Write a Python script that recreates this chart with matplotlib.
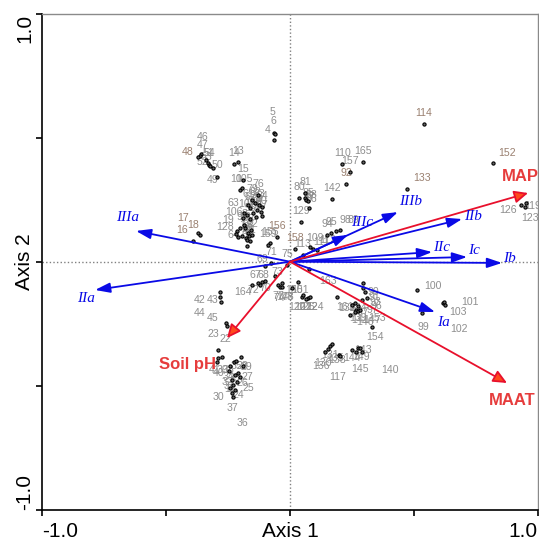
import matplotlib
matplotlib.use('Agg')
import matplotlib.pyplot as plt
from matplotlib.patches import FancyArrowPatch

# ---------------- data ----------------
site_ids = [4, 5, 6, 13, 14, 15, 10, 105, 46, 47, 48, 51, 54, 53, 52, 50, 49,
            76, 79, 82, 83, 84, 61, 62, 63, 106, 107, 108, 59, 60, 57, 56, 55,
            16, 17, 18, 19, 128, 58, 65, 64, 1, 2, 3, 7, 8, 9, 12, 20, 21, 66,
            156, 155, 159, 158, 114, 110, 165, 157, 92, 133, 152, 80, 81, 85, 87,
            88, 86, 142, 129, 94, 95, 98, 89, 109, 111, 112, 113, 126, 119, 123,
            100, 99, 101, 103, 102, 69, 71, 75, 67, 68, 70, 72, 73, 164, 77, 74,
            78, 150, 151, 148, 120, 121, 122, 124, 125, 163, 161, 90, 91, 93, 96,
            97, 132, 134, 137, 139, 141, 146, 147, 153, 154, 130, 131, 135, 136,
            138, 143, 144, 149, 145, 117, 140, 42, 43, 44, 45, 22, 23, 41, 40, 39,
            38, 35, 28, 29, 34, 33, 27, 32, 31, 26, 25, 30, 37, 36, 24, 11]
site_x = [-0.065, -0.065, -0.060, -0.210, -0.226, -0.190, -0.202, -0.194, -0.359, -0.363,
          -0.371, -0.339, -0.331, -0.327, -0.323, -0.310, -0.294,
          -0.129, -0.153, -0.141, -0.125, -0.113, -0.169, -0.161, -0.185, -0.190, -0.173,
          -0.149, -0.133, -0.117, -0.113, -0.137, -0.161,
          -0.391, -0.371, -0.363, -0.214, -0.218, -0.181, -0.169, -0.210, -0.194, -0.177,
          -0.165, -0.157, -0.185, -0.202, -0.153, -0.173, -0.161, -0.173,
          -0.052, -0.081, -0.089, 0.020, 0.540, 0.210, 0.294, 0.242, 0.226, 0.472, 0.819,
          0.036, 0.060, 0.060, 0.065,
          0.073, 0.077, 0.169, 0.044, 0.149, 0.165, 0.185, 0.202, 0.081, 0.093, 0.109, 0.052,
          0.931, 0.952, 0.948,
          0.512, 0.532, 0.617, 0.621, 0.625, -0.101, -0.077, -0.012, -0.129, -0.113, -0.101,
          -0.121, -0.060, -0.153, -0.048, -0.040,
          -0.032, -0.032, 0.032, 0.008, 0.048, 0.052, 0.073, 0.081, 0.065, 0.077, 0.190,
          0.294, 0.294, 0.302, 0.310,
          0.290, 0.250, 0.262, 0.274, 0.266, 0.242, 0.262, 0.274, 0.282, 0.331, 0.141, 0.161,
          0.169, 0.153,
          0.198, 0.274, 0.250, 0.282, 0.266, 0.202, 0.290, -0.282, -0.282, -0.278, -0.258,
          -0.254, -0.290, -0.294, -0.290, -0.274,
          -0.242, -0.226, -0.218, -0.198, -0.246, -0.222, -0.190, -0.234, -0.214, -0.210,
          -0.202, -0.242, -0.230, -0.234, -0.222, -0.230]
site_y = [0.491, 0.519, 0.515, 0.402, 0.394, 0.329, 0.289, 0.297, 0.434, 0.426,
          0.422, 0.410, 0.398, 0.390, 0.386, 0.378, 0.342,
          0.269, 0.249, 0.237, 0.229, 0.221, 0.229, 0.217, 0.196, 0.176, 0.188,
          0.196, 0.208, 0.200, 0.184, 0.180, 0.172,
          0.083, 0.116, 0.108, 0.124, 0.112, 0.136, 0.116, 0.100, 0.104, 0.096,
          0.104, 0.128, 0.148, 0.136, 0.108, 0.088, 0.083, 0.063,
          0.100, 0.075, 0.067, 0.051, 0.555, 0.394, 0.402, 0.362, 0.313, 0.293, 0.398,
          0.257, 0.277, 0.257, 0.249,
          0.245, 0.217, 0.253, 0.160, 0.108, 0.116, 0.124, 0.128, 0.059, 0.051, 0.047, 0.027,
          0.229, 0.237, 0.221,
          -0.114, -0.207, -0.167, -0.163, -0.175, -0.017, -0.005, -0.013, -0.086, -0.082, -0.078,
          -0.094, -0.058, -0.094, -0.094, -0.102,
          -0.102, -0.086, -0.082, -0.106, -0.142, -0.134, -0.146, -0.142, -0.150, -0.029, -0.142,
          -0.086, -0.106, -0.122, -0.146,
          -0.154, -0.175, -0.167, -0.179, -0.195, -0.215, -0.203, -0.199, -0.195, -0.263, -0.364, -0.340,
          -0.332, -0.352,
          -0.376, -0.348, -0.356, -0.348, -0.364, -0.380, -0.364, -0.122, -0.142, -0.163, -0.247,
          -0.259, -0.356, -0.404, -0.388, -0.384,
          -0.421, -0.404, -0.400, -0.384, -0.441, -0.457, -0.421, -0.477, -0.485, -0.449,
          -0.465, -0.509, -0.546, -0.529, -0.517, -0.497]

group_names = ['IIIa', 'IIa', 'IIIc', 'IIIb', 'IIb', 'IIc', 'Ic', 'Ib', 'Ia']
group_x = [-0.621, -0.786, 0.234, 0.435, 0.694, 0.573, 0.714, 0.855, 0.585]
group_y = [0.124, -0.114, 0.108, 0.200, 0.172, 0.039, 0.019, -0.005, -0.203]

env_names = ['MAP', 'MAAT', 'Soil pH']
env_x = [0.960, 0.875, -0.254]
env_y = [0.277, -0.489, -0.308]

x_ticks = [-1.0, -0.5, 0.0, 0.5, 1.0]
x_tick_labels = ['-1.0', '', 'Axis 1', '', '1.0']
y_ticks = [-1.0, -0.5, 0.0, 0.5, 1.0]
y_tick_labels = ['-1.0', '', 'Axis 2', '', '1.0']

# ---------------- style ----------------
PX = 0.72  # pixel -> points at 100 dpi
default_off = (0, -11)
site_off = {4: (-6, -10), 5: (-1, -21), 6: (-2, -13), 10: (-4, -11), 105: (2, -9), 46: (2, -17),
            47: (3, -11), 48: (-10, -5), 51: (3, -7), 54: (2, -10), 53: (-2, -8), 52: (-7, -4),
            50: (4, -3), 49: (-4, 3), 63: (-11, -10), 106: (-9, -6), 16: (-11, -11), 17: (-15, -15),
            18: (-7, -10), 19: (-9, -11), 128: (-11, -7), 64: (-5, -2), 133: (15, -11), 152: (14, -10),
            85: (3, -5), 87: (3, -3), 88: (3, -6), 86: (2, -9), 98: (9, -11), 89: (13, -10),
            109: (5, -9), 111: (8, -7), 112: (11, -10), 126: (-13, 5), 119: (7, 3), 123: (5, 11),
            100: (16, -4), 99: (1, 14), 101: (27, -1), 103: (14, 10), 102: (14, 24), 69: (-3, -7),
            67: (-3, -8), 68: (1, -7), 70: (0, 7), 72: (-7, 5), 73: (2, -4), 164: (-9, 7), 77: (0, 11),
            74: (-1, 11), 78: (5, 10), 150: (12, 7), 151: (2, 8), 148: (-7, 9), 120: (-5, 10),
            121: (0, 12), 122: (1, 9), 124: (5, 10), 125: (0, 8), 163: (19, 12), 161: (8, 10),
            90: (10, 9), 91: (11, 9), 93: (10, 10), 96: (9, 8), 97: (10, 10), 132: (-5, 3),
            134: (3, 5), 137: (2, 6), 139: (2, 8), 141: (10, 5), 146: (10, 10), 147: (14, 9),
            153: (17, 8), 154: (3, 10), 130: (-2, 11), 131: (0, 9), 135: (3, 14), 136: (-7, 17),
            138: (-2, 5), 143: (5, 2), 144: (0, 8), 149: (1, 9), 145: (4, 17), 117: (-2, 21),
            140: (28, 18), 42: (-20, 8), 43: (-7, 3), 44: (-21, 11), 45: (-13, -5), 22: (-2, 13),
            23: (-5, -16), 41: (-2, 8), 40: (0, 15), 39: (0, 13), 38: (-2, 4), 35: (3, 4),
            28: (6, 5), 29: (5, 10), 34: (-1, 6), 33: (0, 3), 27: (4, 11), 32: (-5, 2),
            31: (-7, 4), 26: (4, 10), 25: (8, 11), 30: (-12, 9), 37: (-1, 11), 36: (10, 30),
            24: (3, 5), 11: (-3, 4)}
brown_sites = {16, 17, 18, 48, 92, 133, 152, 156, 158, 114}
group_off = [(-8, -13), (-9, 9), (14, -12), (13, -11), (11, -3), (9, -5), (7, -6), (7, -4), (8, 10)]
env_off = [(-8, -17), (5, 18), (-40, 26)]

BLUE = '#0a0ae6'
RED = '#e8102c'
RED_HEAD = '#ff4a1c'
RED_TXT = '#e63c3c'
GRAY_TXT = '#8e8e8e'
BROWN_TXT = '#9a8070'

plt.rcParams['font.family'] = ['Liberation Sans', 'DejaVu Sans']

fig = plt.figure(figsize=(5.39, 5.37), dpi=100)
ax = fig.add_axes([42 / 539, 1 - 509.7 / 537, 496 / 539, 496 / 537])
ax.set_xlim(-1, 1)
ax.set_ylim(-1, 1)

ax.axhline(0, color='#808080', lw=1, ls=(0, (1, 1.6)), zorder=1)
ax.axvline(0, color='#808080', lw=1, ls=(0, (1, 1.6)), zorder=1)

# sites
ax.plot(site_x, site_y, ls='none', marker='o', ms=2.3, mfc='#666666', mec='black',
        mew=0.8, zorder=3)
for sid, sx, sy in zip(site_ids, site_x, site_y):
    dx, dy = site_off.get(sid, default_off)
    ax.annotate(str(sid), (sx, sy), xytext=(dx * PX, -dy * PX), textcoords='offset points',
                ha='center', va='center', fontsize=7.6,
                color=BROWN_TXT if sid in brown_sites else GRAY_TXT, zorder=2)

# group vectors (blue)
for name, gx, gy, (dx, dy) in zip(group_names, group_x, group_y, group_off):
    arr = FancyArrowPatch((0, 0), (gx, gy), arrowstyle='-|>,head_length=0.6,head_width=0.2',
                          mutation_scale=15, color=BLUE, lw=1.3, shrinkA=0, shrinkB=0, zorder=5)
    ax.add_patch(arr)
    ax.annotate(name, (gx, gy), xytext=(dx * PX, -dy * PX), textcoords='offset points',
                ha='center', va='center', fontsize=11, color=BLUE,
                family=['Liberation Serif', 'DejaVu Serif'], style='italic', zorder=6)

# environmental vectors (red)
for name, ex, ey, (dx, dy) in zip(env_names, env_x, env_y, env_off):
    arr = FancyArrowPatch((0, 0), (ex, ey), arrowstyle='-|>,head_length=0.55,head_width=0.25',
                          mutation_scale=15, facecolor=RED_HEAD, edgecolor=RED, lw=1.3,
                          shrinkA=0, shrinkB=0, zorder=5, clip_on=False)
    ax.add_patch(arr)
    ax.annotate(name, (ex, ey), xytext=(dx * PX, -dy * PX), textcoords='offset points',
                ha='center', va='center', fontsize=12, color=RED_TXT, fontweight='bold',
                zorder=6, annotation_clip=False)

# axes styling
for side in ['left', 'bottom']:
    ax.spines[side].set_color('black')
    ax.spines[side].set_linewidth(1.2)
for side in ['top', 'right']:
    ax.spines[side].set_color('#8a8a8a')
    ax.spines[side].set_linewidth(1.0)

ax.set_xticks(x_ticks)
ax.set_xticklabels(x_tick_labels, fontsize=15)
ax.set_yticks(y_ticks)
ax.set_yticklabels(y_tick_labels, fontsize=15, rotation=90)
ax.tick_params(axis='both', direction='out', length=4.5, width=1.2, color='black')
ax.tick_params(axis='x', pad=4)
ax.tick_params(axis='y', pad=1)

xl = ax.get_xticklabels()
xl[0].set_ha('left')
xl[-1].set_ha('right')
for t in ax.get_yticklabels():
    t.set_va('center')
yl = ax.get_yticklabels()
yl[0].set_va('bottom')
yl[-1].set_va('top')

fig.savefig('out.png', dpi=100)
